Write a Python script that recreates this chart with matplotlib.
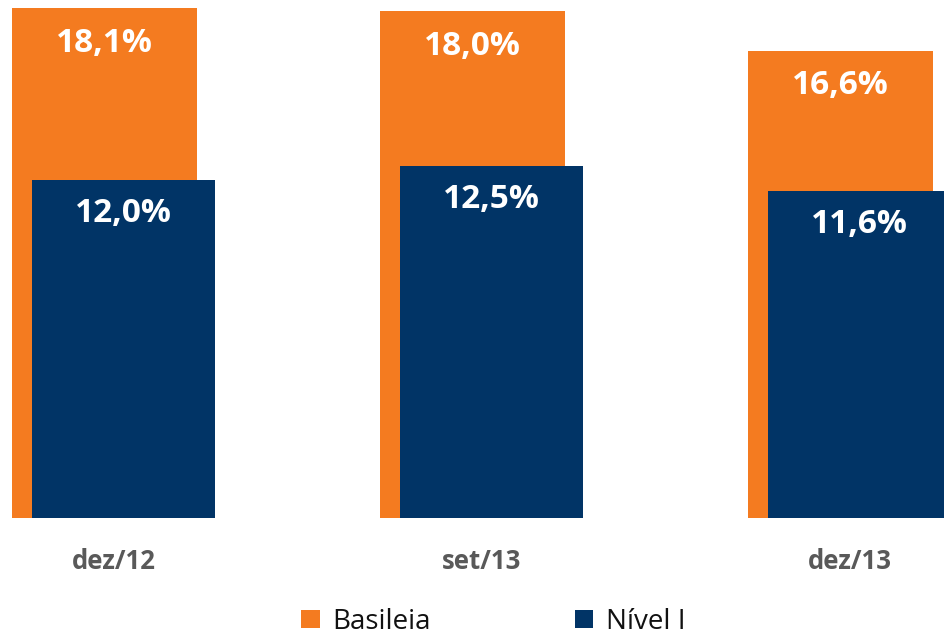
import matplotlib.pyplot as plt
import matplotlib.patches as mpatches
import numpy as np

# ── Data ──────────────────────────────────────────────────────────────────────
categories = ["dez/12", "set/13", "dez/13"]
basileia   = [18.1, 18.0, 16.6]
nivel_1    = [12.0, 12.5, 11.6]
series_names = ["Basileia", "Nível I"]

# ── Style ─────────────────────────────────────────────────────────────────────
C_ORANGE = "#F47B20"
C_NAVY   = "#013466"
C_GRAY   = "#595959"
FONT     = "Open Sans"

W, H = 945, 638
fig = plt.figure(figsize=(W / 100, H / 100), dpi=100)
base_px = 518
ax = fig.add_axes([0, (H - base_px) / H, 1, base_px / H])

x = np.arange(len(categories))
group_px = 368.0
off_orange, off_navy = -0.025, 0.027
w_orange, w_navy = 0.503, 0.497

ax.bar(x + off_orange, basileia, width=w_orange, color=C_ORANGE, linewidth=0, zorder=2)
ax.bar(x + off_navy, nivel_1, width=w_navy, color=C_NAVY, linewidth=0, zorder=3)

ax.set_xlim(-113.5 / group_px, (W - 113.5) / group_px)
ax.set_ylim(0, base_px / 28.15)
ax.axis("off")

# value labels inside bars
for i in range(len(categories)):
    ax.text(x[i] + off_orange, basileia[i] - 1.25, f"{basileia[i]:.1f}%".replace(".", ","),
            ha="center", va="center", fontsize=24, fontweight="bold",
            color="white", family=FONT, zorder=4)
    ax.text(x[i] + off_navy, nivel_1[i] - 1.17, f"{nivel_1[i]:.1f}%".replace(".", ","),
            ha="center", va="center", fontsize=24, fontweight="bold",
            color="white", family=FONT, zorder=4)
    # category labels below baseline
    ax.text(x[i], -1.55, categories[i], ha="center", va="center",
            fontsize=18.5, fontweight="bold", color=C_GRAY, family=FONT,
            clip_on=False)

# ── Legend ────────────────────────────────────────────────────────────────────
handles = [mpatches.Patch(facecolor=C_ORANGE, label=series_names[0]),
           mpatches.Patch(facecolor=C_NAVY, label=series_names[1])]
fig.legend(handles=handles, loc="lower center", bbox_to_anchor=(0.522, -0.036),
           ncol=2, frameon=False, prop={"family": FONT, "size": 20},
           handlelength=0.65, handleheight=0.65, handletextpad=0.45,
           columnspacing=5.2, labelcolor="#111111")

fig.savefig("out.png", dpi=100, facecolor="white")
